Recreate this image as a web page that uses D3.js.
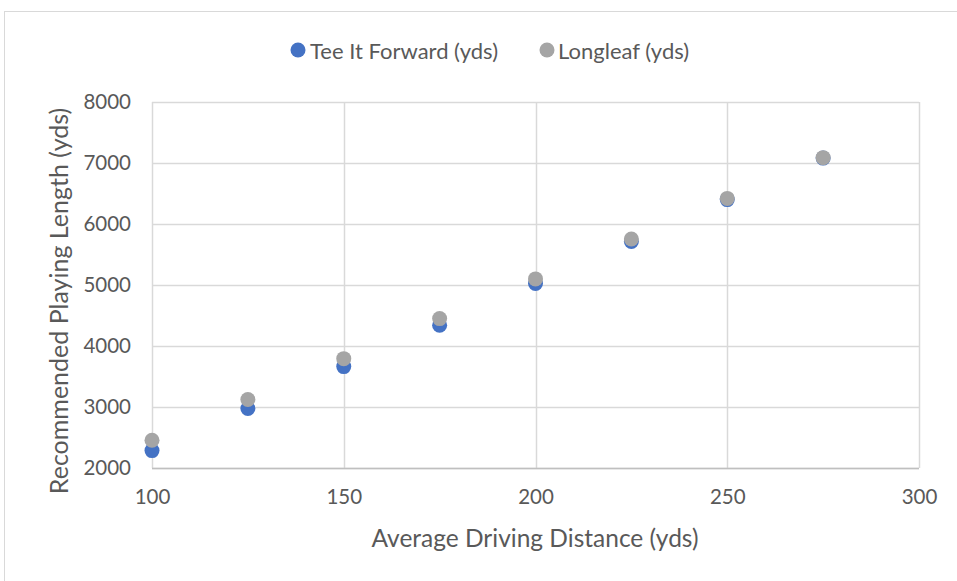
<!DOCTYPE html>
<html><head><meta charset="utf-8">
<script src="https://cdn.jsdelivr.net/npm/d3@7"></script>
<style>body{margin:0;background:#fff}svg{display:block}text{font-family:Lato,"Open Sans",sans-serif;fill:#595959}</style>
</head><body><svg id="c" width="957" height="581"></svg>
<script>
const distances = [100,125,150,175,200,225,250,275];
const teeItForward = [2285,2975,3662,4340,5025,5715,6400,7080];
const longleaf = [2455,3122,3793,4449,5100,5755,6420,7088];
const xTicks = [100,150,200,250,300];
const yTicks = [2000,3000,4000,5000,6000,7000,8000];
const seriesNames = ["Tee It Forward (yds)","Longleaf (yds)"];
const seriesColors = ["#4472C4","#A5A5A5"];

const svg = d3.select("#c");
svg.append("rect").attr("x",4.5).attr("y",11.5).attr("width",1000).attr("height",1000)
  .attr("fill","#fff").attr("stroke","#D9D9D9");

const x = d3.scaleLinear().domain([100,300]).range([152,919]);
const y = d3.scaleLinear().domain([2000,8000]).range([468,102]);

// gridlines
svg.append("g").selectAll("line").data(yTicks).join("line")
  .attr("x1",x(100)).attr("x2",x(300)).attr("y1",d=>Math.round(y(d))+0.5).attr("y2",d=>Math.round(y(d))+0.5)
  .attr("stroke","#D9D9D9").attr("stroke-width",1.5);
svg.append("g").selectAll("line").data(xTicks).join("line")
  .attr("y1",y(2000)).attr("y2",y(8000)).attr("x1",d=>Math.round(x(d))+0.5).attr("x2",d=>Math.round(x(d))+0.5)
  .attr("stroke","#D9D9D9").attr("stroke-width",1.5);
// x axis line
svg.append("line").attr("x1",x(100)).attr("x2",x(300)).attr("y1",Math.round(y(2000))+0.5).attr("y2",Math.round(y(2000))+0.5)
  .attr("stroke","#BFBFBF").attr("stroke-width",1.5);

// tick labels
const xa = svg.append("g").attr("transform",`translate(0,${y(2000)})`)
  .call(d3.axisBottom(x).tickValues(xTicks).tickSize(0).tickPadding(21).tickFormat(d3.format("d")));
xa.select(".domain").remove();
xa.selectAll("text").style("font-size","20.5px").attr("fill","#595959");
const ya = svg.append("g").attr("transform",`translate(${x(100)},0)`)
  .call(d3.axisLeft(y).tickValues(yTicks).tickSize(0).tickPadding(21).tickFormat(d3.format("d")));
ya.select(".domain").remove();
ya.selectAll("text").style("font-size","20.5px").attr("fill","#595959");

// axis titles
svg.append("text").attr("x",535).attr("y",547).attr("text-anchor","middle").style("font-size","24.5px").text("Average Driving Distance (yds)");
svg.append("text").attr("transform","translate(68,301) rotate(-90)").attr("text-anchor","middle").style("font-size","25px").text("Recommended Playing Length (yds)");

// points
const series = [teeItForward, longleaf];
series.forEach((vals,i)=>{
  svg.append("g").selectAll("circle").data(distances).join("circle")
    .attr("cx",d=>x(d)).attr("cy",(d,j)=>y(vals[j])).attr("r",7.5).attr("fill",seriesColors[i]);
});

// legend
const legend = [{x:298,tx:310},{x:547,tx:558}];
seriesNames.forEach((n,i)=>{
  svg.append("circle").attr("cx",legend[i].x).attr("cy",50).attr("r",7.5).attr("fill",seriesColors[i]);
  svg.append("text").attr("x",legend[i].tx).attr("y",59).style("font-size","22px").text(n);
});
</script></body></html>
